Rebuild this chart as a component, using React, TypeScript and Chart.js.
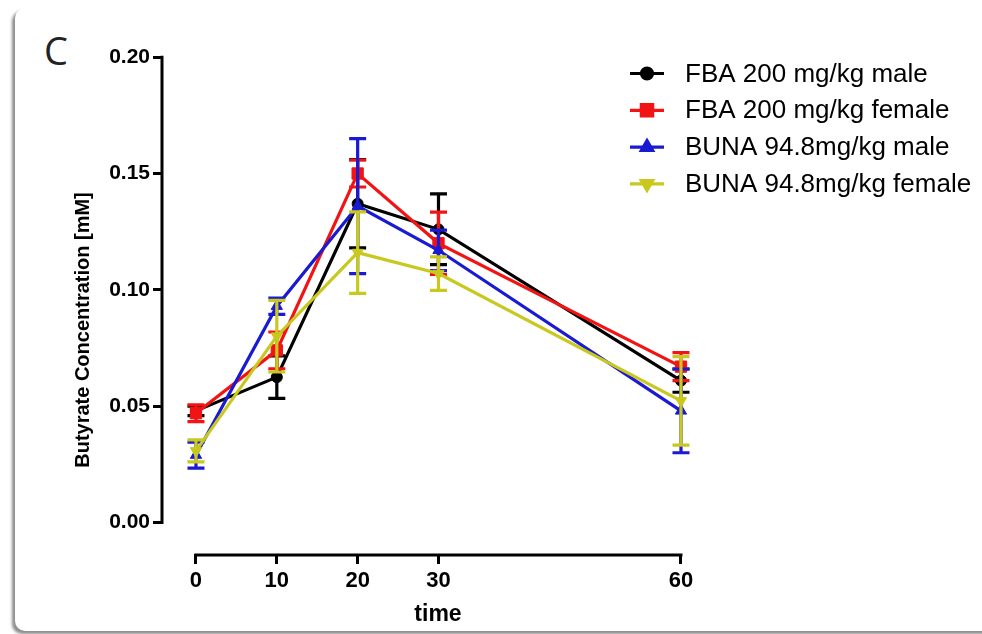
import React, { useEffect, useRef } from 'react';
import { Chart, registerables } from 'chart.js';
import { drawPoint } from 'chart.js/helpers';

Chart.register(...registerables);

// ---- data ----
const timePoints = [0, 10, 20, 30, 60];
const xTickValues = [0, 10, 20, 30, 60];
const yTickValues = [0, 0.05, 0.1, 0.15, 0.2];

const seriesLabels = [
  'FBA 200 mg/kg male',
  'FBA 200 mg/kg female',
  'BUNA 94.8mg/kg male',
  'BUNA 94.8mg/kg female',
];

const fbaMale = [0.048, 0.0625, 0.137, 0.126, 0.061];
const fbaMaleErr = [0.002, 0.0091, 0.019, 0.0152, 0.005];
const fbaFemale = [0.047, 0.074, 0.15, 0.12, 0.067];
const fbaFemaleErr = [0.0036, 0.0079, 0.0058, 0.0134, 0.006];
const bunaMale = [0.029, 0.093, 0.136, 0.117, 0.048];
const bunaMaleErr = [0.0056, 0.0035, 0.029, 0.0087, 0.018];
const bunaFemale = [0.0308, 0.0801, 0.116, 0.107, 0.0523];
const bunaFemaleErr = [0.0047, 0.0154, 0.0175, 0.0072, 0.019];

const seriesValues = [fbaMale, fbaFemale, bunaMale, bunaFemale];
const seriesErrors = [fbaMaleErr, fbaFemaleErr, bunaMaleErr, bunaFemaleErr];
const seriesColors = ['#000000', '#f21414', '#1a1ad2', '#c8c81e'];
const seriesStyles = ['circle', 'rect', 'triangle', 'triangle'];
const seriesRotations = [0, 0, 0, 180];
const seriesRadius = [5.5, 8, 6.5, 6.5];

const FONT = '"Liberation Sans", Arial, sans-serif';

const errorBarsPlugin = {
  id: 'errorBars',
  afterDatasetDraw(chart: any, args: any) {
    const i = args.index;
    const errs = seriesErrors[i];
    const vals = seriesValues[i];
    const yScale = chart.scales.y;
    const ctx = chart.ctx;
    ctx.save();
    ctx.strokeStyle = seriesColors[i];
    ctx.lineWidth = 3.2;
    args.meta.data.forEach((pt: any, j: number) => {
      const top = yScale.getPixelForValue(vals[j] + errs[j]);
      const bot = yScale.getPixelForValue(vals[j] - errs[j]);
      const hw = 8.5;
      ctx.beginPath();
      ctx.moveTo(pt.x, top);
      ctx.lineTo(pt.x, bot);
      ctx.moveTo(pt.x - hw, top);
      ctx.lineTo(pt.x + hw, top);
      ctx.moveTo(pt.x - hw, bot);
      ctx.lineTo(pt.x + hw, bot);
      ctx.stroke();
    });
    ctx.restore();
  },
};

const axisLinesPlugin = {
  id: 'axisLines',
  afterDraw(chart: any) {
    const { ctx, chartArea } = chart;
    const x = chart.scales.x;
    const y = chart.scales.y;
    ctx.save();
    ctx.strokeStyle = '#000';
    ctx.lineWidth = 3;
    ctx.beginPath();
    const lx = chartArea.left - 1;
    ctx.moveTo(lx, y.getPixelForValue(yTickValues[0]) + 1.5);
    ctx.lineTo(lx, y.getPixelForValue(yTickValues[yTickValues.length - 1]) - 1.5);
    const by = chartArea.bottom + 1;
    ctx.moveTo(x.getPixelForValue(xTickValues[0]) - 1.5, by);
    ctx.lineTo(x.getPixelForValue(xTickValues[xTickValues.length - 1]) + 1.5, by);
    ctx.stroke();
    ctx.restore();
  },
};

const legendPlugin = {
  id: 'customLegend',
  afterDraw(chart: any) {
    const ctx = chart.ctx;
    ctx.save();
    seriesLabels.forEach((label, i) => {
      const rowY = 73.5 + i * 36.8;
      ctx.strokeStyle = seriesColors[i];
      ctx.fillStyle = seriesColors[i];
      ctx.lineWidth = 3.2;
      ctx.beginPath();
      ctx.moveTo(630, rowY);
      ctx.lineTo(664, rowY);
      ctx.stroke();
      drawPoint(
        ctx,
        {
          pointStyle: seriesStyles[i],
          rotation: seriesRotations[i],
          radius: seriesRadius[i],
          borderWidth: 1,
        } as any,
        647,
        rowY
      );
      ctx.fillStyle = '#000';
      ctx.font = '26px ' + FONT;
      ctx.textBaseline = 'middle';
      ctx.textAlign = 'left';
      ctx.fillText(label, 685, rowY + 1);
    });
    ctx.restore();
  },
};

export default function App() {
  const canvasRef = useRef<HTMLCanvasElement | null>(null);

  useEffect(() => {
    if (!canvasRef.current) return;
    const datasets = seriesLabels.map((label, i) => ({
      label,
      data: timePoints.map((t, j) => ({ x: t, y: seriesValues[i][j] })),
      borderColor: seriesColors[i],
      backgroundColor: seriesColors[i],
      pointBackgroundColor: seriesColors[i],
      pointBorderColor: seriesColors[i],
      pointStyle: seriesStyles[i],
      pointRotation: seriesRotations[i],
      pointRadius: seriesRadius[i],
      pointBorderWidth: 1,
      borderWidth: 3.2,
      tension: 0,
      clip: false,
      order: 4 - i,
    }));

    const gridOpts = {
      display: true,
      drawOnChartArea: false,
      drawTicks: true,
      tickLength: 10,
      tickWidth: 3,
      tickColor: '#000',
      color: '#000',
      lineWidth: 3,
    };

    const chart = new Chart(canvasRef.current, {
      type: 'line',
      data: { datasets: datasets as any },
      options: {
        responsive: false,
        animation: false,
        devicePixelRatio: 1,
        layout: { padding: { top: 106, right: 269, bottom: 0, left: 0 } },
        plugins: {
          legend: { display: false },
          tooltip: { enabled: false },
        },
        scales: {
          x: {
            type: 'linear',
            min: -4.08,
            max: 63.96,
            afterBuildTicks: (axis: any) => {
              axis.ticks = xTickValues.map((v) => ({ value: v }));
            },
            afterFit: (axis: any) => {
              axis.height = 80;
            },
            grid: gridOpts,
            border: { display: false },
            ticks: {
              autoSkip: false,
              maxRotation: 0,
              padding: 4,
              color: '#000',
              font: { family: FONT, size: 22, weight: 'bold' },
              callback: (v: any) => String(v),
            },
            title: {
              display: true,
              text: 'time',
              color: '#000',
              font: { family: FONT, size: 23, weight: 'bold' },
              padding: { top: 0, bottom: 6 },
            },
          },
          y: {
            type: 'linear',
            min: -0.0135,
            max: 0.179,
            afterBuildTicks: (axis: any) => {
              axis.ticks = yTickValues.map((v) => ({ value: v }));
            },
            afterFit: (axis: any) => {
              axis.width = 163;
            },
            grid: gridOpts,
            border: { display: false },
            ticks: {
              autoSkip: false,
              padding: 3,
              color: '#000',
              font: { family: FONT, size: 21, weight: 'bold' },
              callback: (v: any) => Number(v).toFixed(2),
            },
            title: {
              display: true,
              text: 'Butyrate Concentration [mM]',
              color: '#000',
              font: { family: FONT, size: 20, weight: 'bold' },
              padding: { top: 71, bottom: 0 },
            },
          },
        },
      } as any,
      plugins: [errorBarsPlugin, axisLinesPlugin, legendPlugin],
    });
    return () => chart.destroy();
  }, []);

  return (
    <div
      style={{
        position: 'fixed',
        left: 0,
        top: 0,
        width: 982,
        height: 634,
        background: '#fff',
        overflow: 'hidden',
      }}
    >
      <div
        style={{
          position: 'absolute',
          left: 15,
          top: 8,
          width: 1000,
          height: 623,
          background: '#fff',
          borderRadius: 10,
          boxShadow: '-3px 3px 3px rgba(0,0,0,0.45)',
        }}
      />
      <div
        style={{
          position: 'absolute',
          left: 44,
          top: 31,
          fontFamily: '"Open Sans", sans-serif',
          fontSize: 38,
          lineHeight: '38px',
          color: '#222',
        }}
      >
        C
      </div>
      <canvas
        ref={canvasRef}
        width={982}
        height={634}
        style={{ position: 'absolute', left: 0, top: 0 }}
      />
    </div>
  );
}
